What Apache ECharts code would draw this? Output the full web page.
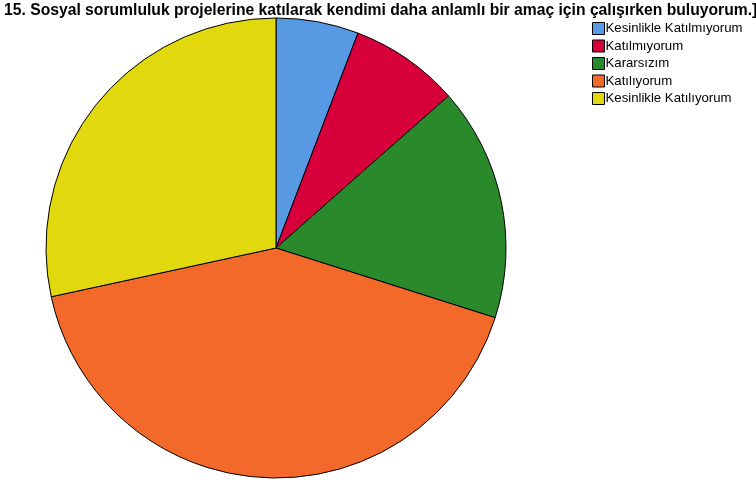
<!DOCTYPE html>
<html><head><meta charset="utf-8">
<script src="https://cdn.jsdelivr.net/npm/echarts@6/dist/echarts.min.js"></script>
<style>html,body{margin:0;padding:0;background:#fff}#c{width:756px;height:480px}</style>
</head><body><div id="c"></div>
<script>
const titleText = "15. Sosyal sorumluluk projelerine katılarak kendimi daha anlamlı bir amaç için çalışırken buluyorum.]";
const categories = ["Kesinlikle Katılmıyorum", "Katılmıyorum", "Kararsızım", "Katılıyorum", "Kesinlikle Katılıyorum"];
const values = [5.8, 7.7, 16.4, 41.7, 28.4];
const colors = ["#5799E3", "#D7003A", "#2A8A2B", "#F3692A", "#E2D80E"];

const chart = echarts.init(document.getElementById('c'));
chart.setOption({
  animation: false,
  color: colors,
  title: {
    text: titleText, left: -1, top: -2,
    textStyle: {fontFamily: "Liberation Sans", fontWeight: "bold", fontSize: 15.7, color: "#000"}
  },
  legend: {
    orient: "vertical", left: 592, top: 22, icon: "rect", padding: 0,
    itemWidth: 12, itemHeight: 12, itemGap: 4.5,
    data: categories,
    itemStyle: {borderColor: "#000", borderWidth: 1},
    textStyle: {fontFamily: "Liberation Sans", fontSize: 13.2, lineHeight: 12, color: "#000", padding: [0,0,0,-4]}
  },
  series: [{
    type: "pie", center: [276, 248], radius: 230, startAngle: 90, clockwise: true,
    label: {show: false}, labelLine: {show: false},
    itemStyle: {borderColor: "#000", borderWidth: 1},
    emphasis: {disabled: true},
    data: categories.map((c, i) => ({name: c, value: values[i]}))
  }]
});
</script></body></html>
